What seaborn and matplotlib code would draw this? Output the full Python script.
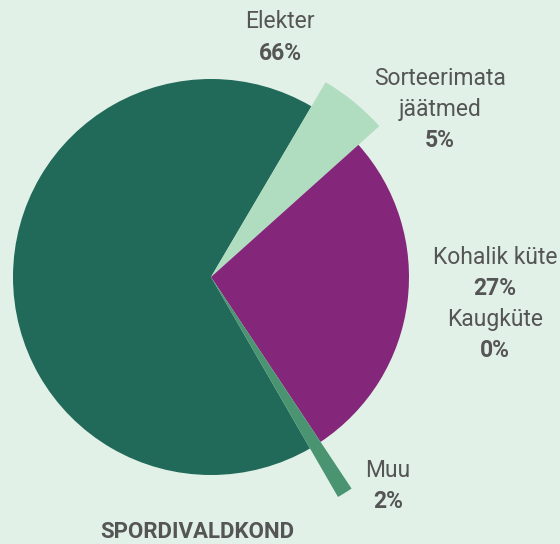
import matplotlib.pyplot as plt
import seaborn as sns

# shares of the slices as drawn (percent) and the printed labels
categories = ['Elekter', 'Sorteerimata\njäätmed', 'Kohalik küte', 'Kaugküte', 'Muu']
shares = [66.8, 4.9, 27.3, 0.0, 1.0]
pct_labels = ['66%', '5%', '27%', '0%', '2%']
title = 'SPORDIVALDKOND'

colors = ['#216959', '#b0dcbf', '#84267a', '#3d6fb0', '#4a9471']
bg = '#e1f1e7'
text_color = '#555555'

sns.set_theme(style='white')
plt.rcParams['font.family'] = ['Roboto', 'DejaVu Sans']

W, H = 560, 544
cx, cy, R = 211, 277, 198  # pie centre and radius in pixels

fig = plt.figure(figsize=(W / 100, H / 100), dpi=100, facecolor=bg)
ax = fig.add_axes([0, 0, 1, 1])
ax.set_facecolor(bg)

wedges, _ = ax.pie(shares, colors=colors, startangle=300, counterclock=False,
                   radius=1, wedgeprops=dict(linewidth=0))
# highlighted slices stick out further
wedges[1].set_radius(226 / R)
wedges[4].set_radius(254 / R)

ax.set_xlim(-cx / R, (W - cx) / R)
ax.set_ylim(-(H - cy) / R, cy / R)
ax.axis('off')


def px(x, y):
    return (x - cx) / R, (cy - y) / R


# label blocks: (centre x px, y px of first line centre)
label_pos = [(280, 22), (440, 78), (495, 257), (None, None), (388, 470)]
blocks = [
    [(categories[0], 'normal'), (pct_labels[0], 'bold')],
    [(categories[1], 'normal'), (pct_labels[1], 'bold')],
    [(categories[2], 'normal'), (pct_labels[2], 'bold'),
     (categories[3], 'normal'), (pct_labels[3], 'bold')],
    None,
    [(categories[4], 'normal'), (pct_labels[4], 'bold')],
]
line_h = 31
for pos, block in zip(label_pos, blocks):
    if block is None:
        continue
    x0, y = pos
    for txt, weight in block:
        for part in txt.split('\n'):
            ax.text(*px(x0, y), part, ha='center', va='center',
                    fontsize=16.5, fontweight=weight, color=text_color)
            y += line_h

ax.text(*px(197, 532), title, ha='center', va='center', fontsize=16,
        fontweight='bold', color=text_color)

plt.savefig('out.png', dpi=100, facecolor=bg)
